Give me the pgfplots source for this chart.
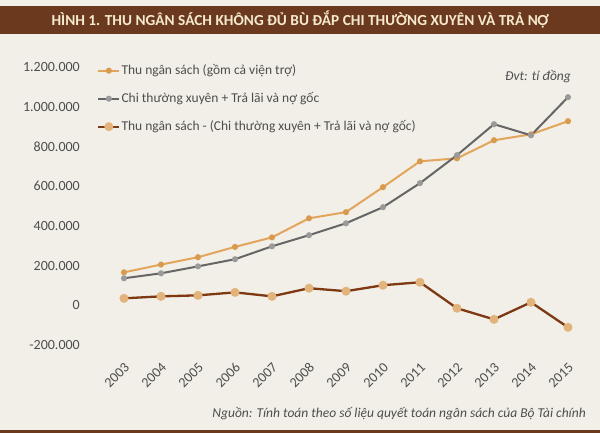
\documentclass[border=0pt]{standalone}
\usepackage{pgfplots}
\pgfplotsset{compat=1.18}
\usepackage{fontspec}
\setmainfont{Carlito}
\definecolor{bgc}{HTML}{F1EFE7}
\definecolor{barc}{HTML}{6B3A1E}
\definecolor{titlec}{HTML}{F5E9CF}
\definecolor{orc}{HTML}{E3A55C}
\definecolor{ormk}{HTML}{D99A4E}
\definecolor{grc}{HTML}{666666}
\definecolor{grmk}{HTML}{9A9A9A}
\definecolor{brc}{HTML}{7E3812}
\definecolor{brmk}{HTML}{E2B47C}
\definecolor{txtc}{HTML}{4E4E4E}
\begin{document}
\begin{tikzpicture}
\fill[bgc] (0pt,0pt) rectangle (600pt,433pt);
\fill[barc] (0pt,399pt) rectangle (600pt,427pt);
\node[text=titlec, font=\bfseries\fontsize{15.3}{18}\selectfont, inner sep=0pt] at (300pt,413pt) {HÌNH 1. THU NGÂN SÁCH KHÔNG ĐỦ BÙ ĐẮP CHI THƯỜNG XUYÊN VÀ TRẢ NỢ};
\fill[barc] (0pt,0pt) rectangle (600pt,3pt);
\node[text=txtc, font=\itshape\fontsize{13.5}{16}\selectfont, anchor=east, inner sep=0pt] at (571pt,356pt) {Đvt: tỉ đồng};
\node[text=txtc, font=\itshape\fontsize{13.5}{16}\selectfont, anchor=east, inner sep=0pt] at (586pt,19pt) {Nguồn: Tính toán theo số liệu quyết toán ngân sách của Bộ Tài chính};
\begin{axis}[
  at={(124pt,88pt)}, anchor=south west,
  scale only axis, width=444pt, height=278pt,
  xmin=2003, xmax=2015, ymin=-200000, ymax=1200000,
  enlargelimits=false, clip=false, scaled y ticks=false, scaled x ticks=false,
  axis line style={draw=none}, major tick length=0pt,
  xtick={2003,2004,2005,2006,2007,2008,2009,2010,2011,2012,2013,2014,2015},
  xticklabels={2003,2004,2005,2006,2007,2008,2009,2010,2011,2012,2013,2014,2015},
  ytick={-200000,0,200000,400000,600000,800000,1000000,1200000},
  yticklabels={-200.000,0,200.000,400.000,600.000,800.000,1.000.000,1.200.000},
  ticklabel style={text=txtc, font=\fontsize{14}{16}\selectfont},
  yticklabel style={anchor=east, inner sep=0pt, xshift=-44pt},
  xticklabel style={inner sep=0pt, xshift=3pt, yshift=-20pt, rotate=45, anchor=east},
  legend style={at={(axis description cs:-0.0608,1.0144)}, anchor=north west, draw=none, fill=none, inner sep=0pt,
    font=\fontsize{13.5}{16}\selectfont, text=txtc, row sep=13pt,
    nodes={inner sep=1pt, text height=10pt, text depth=3pt}},
  legend cell align=left,
  legend image code/.code={\draw[#1] (0pt,0pt) -- (21pt,0pt); \draw[#1, mark repeat=1] plot coordinates {(10.5pt,0pt)};},
]
\addplot[orc, line width=2pt, mark=*, mark size=2pt, mark options={fill=ormk, draw=ormk}] coordinates {
(2003,166000)(2004,205000)(2005,242000)(2006,294000)(2007,342000)(2008,438000)(2009,469000)(2010,595000)(2011,725000)(2012,740000)(2013,831000)(2014,861000)(2015,927000)};
\addlegendentry{Thu ngân sách (gồm cả viện trợ)}
\addplot[grc, line width=2pt, mark=*, mark size=2pt, mark options={fill=grmk, draw=grmk}] coordinates {
(2003,136000)(2004,161000)(2005,196000)(2006,232000)(2007,297000)(2008,353000)(2009,413000)(2010,494000)(2011,615000)(2012,756000)(2013,912000)(2014,856000)(2015,1048000)};
\addlegendentry{Chi thường xuyên + Trả lãi và nợ gốc}
\addplot[brc, line width=2.3pt, mark=*, mark size=3.3pt, mark options={fill=brmk, draw=brmk}] coordinates {
(2003,35000)(2004,45000)(2005,50000)(2006,65000)(2007,45000)(2008,86000)(2009,71000)(2010,101000)(2011,116000)(2012,-15000)(2013,-71000)(2014,15000)(2015,-111000)};
\addlegendentry{Thu ngân sách - (Chi thường xuyên + Trả lãi và nợ gốc)}
\end{axis}
\end{tikzpicture}
\end{document}
